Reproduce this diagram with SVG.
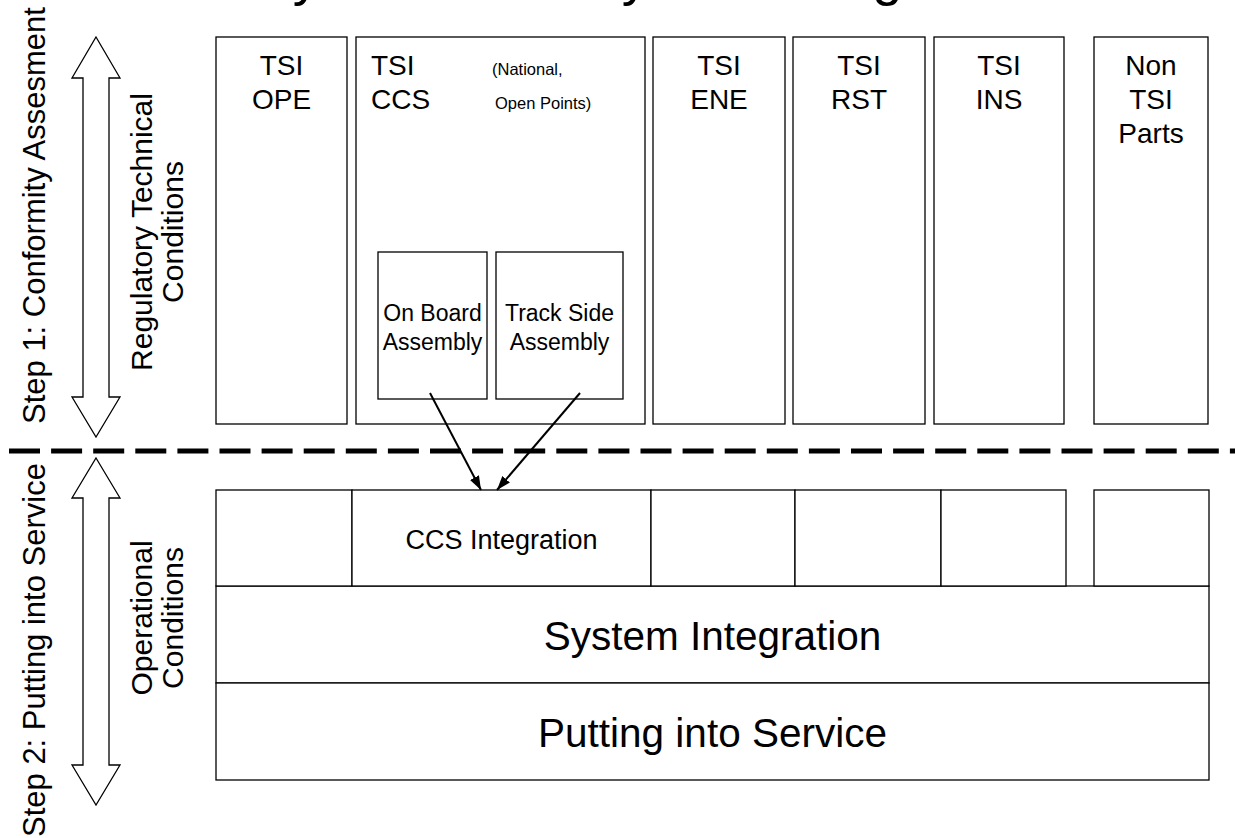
<svg xmlns="http://www.w3.org/2000/svg" width="1235" height="838" viewBox="0 0 1235 838">
  <style>
    text { font-family: "Liberation Sans", Arial, sans-serif; fill: #000; }
    .box { fill: #fff; stroke: #000; stroke-width: 1.3; }
    .blk { fill: #fff; stroke: #000; stroke-width: 1.3; }
    .lbl { font-size: 28px; text-anchor: middle; }
    .sm { font-size: 16.5px; }
    .sub { font-size: 23px; text-anchor: middle; }
    .side { font-size: 31px; }
    .cond { font-size: 30px; text-anchor: middle; }
    .big { font-size: 40.5px; text-anchor: middle; }
    .conn { stroke: #000; stroke-width: 2; fill: none; }
  </style>
  <defs>
    <marker id="head" viewBox="0 0 14 10" refX="14" refY="5" markerWidth="14" markerHeight="10" markerUnits="userSpaceOnUse" orient="auto">
      <path d="M0,0 L14,5 L0,10 z" fill="#000"/>
    </marker>
  </defs>

  <rect width="1235" height="838" fill="#fff"/>

  <!-- title, running off the top edge -->
  <text x="169" y="-5.5" style="font-size:54.3px">Subsystems and System Integration</text>

  <!-- phase divider -->
  <line x1="9" y1="451" x2="1235" y2="451" stroke="#000" stroke-width="5" stroke-dasharray="31 11.1"/>

  <!-- left side: phases -->
  <g id="step1">
    <text class="side" transform="translate(45,424) rotate(-90)">Step 1: Conformity Assesment</text>
    <path class="blk" d="M96,37 L120,78 L109,78 L109,397 L120,397 L96,437 L72,397 L83,397 L83,78 L72,78 Z"/>
    <text class="cond" transform="translate(152,232) rotate(-90)">Regulatory Technical</text>
    <text class="cond" transform="translate(183,232) rotate(-90)">Conditions</text>
  </g>
  <g id="step2">
    <text class="side" transform="translate(45,837) rotate(-90)">Step 2: Putting into Service</text>
    <path class="blk" d="M96,458 L120,498 L109,498 L109,765 L120,765 L96,805 L72,765 L83,765 L83,498 L72,498 Z"/>
    <text class="cond" transform="translate(152,618) rotate(-90)">Operational</text>
    <text class="cond" transform="translate(183,618) rotate(-90)">Conditions</text>
  </g>

  <!-- step 1: TSI subsystems -->
  <g id="tsi-ope">
    <rect class="box" x="216" y="37" width="131" height="387"/>
    <text class="lbl" x="281.5" y="75">TSI</text>
    <text class="lbl" x="281.5" y="109">OPE</text>
  </g>
  <g id="tsi-ccs">
    <rect class="box" x="356" y="37" width="289" height="387"/>
    <text x="371" y="75" style="font-size:28px">TSI</text>
    <text x="371" y="109" style="font-size:28px">CCS</text>
    <text class="sm" x="492" y="75">(National,</text>
    <text class="sm" x="495" y="109">Open Points)</text>
  </g>
  <g id="on-board">
    <rect class="box" x="378" y="252" width="109" height="147"/>
    <text class="sub" x="432.5" y="321">On Board</text>
    <text class="sub" x="432.5" y="350">Assembly</text>
  </g>
  <g id="track-side">
    <rect class="box" x="496" y="252" width="127" height="147"/>
    <text class="sub" x="559.5" y="321">Track Side</text>
    <text class="sub" x="559.5" y="350">Assembly</text>
  </g>
  <g id="tsi-ene">
    <rect class="box" x="653" y="37" width="132" height="387"/>
    <text class="lbl" x="719" y="75">TSI</text>
    <text class="lbl" x="719" y="109">ENE</text>
  </g>
  <g id="tsi-rst">
    <rect class="box" x="793" y="37" width="132" height="387"/>
    <text class="lbl" x="859" y="75">TSI</text>
    <text class="lbl" x="859" y="109">RST</text>
  </g>
  <g id="tsi-ins">
    <rect class="box" x="934" y="37" width="130" height="387"/>
    <text class="lbl" x="999" y="75">TSI</text>
    <text class="lbl" x="999" y="109">INS</text>
  </g>
  <g id="non-tsi">
    <rect class="box" x="1094" y="37" width="114" height="387"/>
    <text class="lbl" x="1151" y="75">Non</text>
    <text class="lbl" x="1151" y="109">TSI</text>
    <text class="lbl" x="1151" y="143">Parts</text>
  </g>

  <!-- step 2: integration -->
  <g id="system-integration">
    <rect class="box" x="216" y="586" width="993" height="97"/>
    <text class="big" x="712.5" y="650">System Integration</text>
  </g>
  <g id="putting-into-service">
    <rect class="box" x="216" y="683" width="993" height="97"/>
    <text class="big" x="712.5" y="747">Putting into Service</text>
  </g>
  <g id="row-ope"><rect class="box" x="216" y="490" width="136" height="96"/></g>
  <g id="ccs-integration">
    <rect class="box" x="352" y="490" width="299" height="96"/>
    <text x="501.5" y="549" style="font-size:27px;text-anchor:middle">CCS Integration</text>
  </g>
  <g id="row-ene"><rect class="box" x="651" y="490" width="144" height="96"/></g>
  <g id="row-rst"><rect class="box" x="795" y="490" width="146" height="96"/></g>
  <g id="row-ins"><rect class="box" x="941" y="490" width="125" height="96"/></g>
  <g id="row-non-tsi"><rect class="box" x="1094" y="490" width="115" height="96"/></g>

  <!-- assemblies feed the CCS integration -->
  <g id="connectors">
    <line class="conn" x1="430" y1="393" x2="481" y2="490" marker-end="url(#head)"/>
    <line class="conn" x1="580" y1="393" x2="497" y2="490" marker-end="url(#head)"/>
  </g>
</svg>
